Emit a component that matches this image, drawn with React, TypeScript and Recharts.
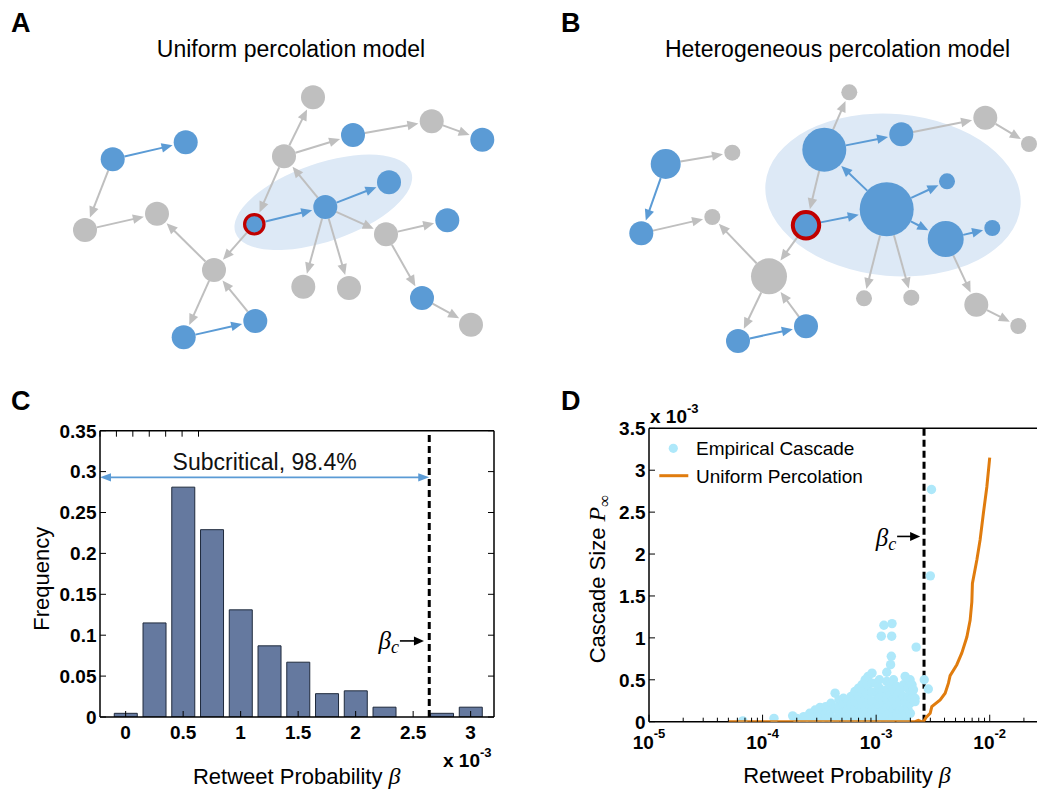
import React from 'react';
import {
  ScatterChart, Scatter, BarChart, Bar, XAxis, YAxis, ReferenceLine, ReferenceArea,
} from 'recharts';

const SANS = '"Liberation Sans", Arial, Helvetica, sans-serif';
const SERIF = '"Liberation Serif", "Times New Roman", serif';
const NODE_BLUE = '#5b9bd5';
const NODE_GRAY = '#bfbfbf';
const SEED_RED = '#c00000';
const BLOB = '#dde9f6';
const BAR_FILL = '#65799f';
const DOT_CYAN = '#aee8fa';
const ORANGE = '#e07c0e';

type Node = { id: number; x: number; y: number; r: number; k: 'b' | 'g' | 's' };
type Edge = [number, number, 'b' | 'g'];

// --- panel A: uniform percolation (node positions in picture pixels)
const nodesA: Node[] = [
  { id: 1, x: 112.7, y: 159.3, r: 12, k: 'b' },
  { id: 2, x: 185.7, y: 142.3, r: 12, k: 'b' },
  { id: 3, x: 85, y: 230, r: 12, k: 'g' },
  { id: 4, x: 157, y: 213.7, r: 12, k: 'g' },
  { id: 5, x: 214, y: 270, r: 12, k: 'g' },
  { id: 6, x: 183.7, y: 337.3, r: 12, k: 'b' },
  { id: 7, x: 255.3, y: 321, r: 12, k: 'b' },
  { id: 8, x: 254.3, y: 224.3, r: 11.5, k: 's' },
  { id: 9, x: 284, y: 156.3, r: 12, k: 'g' },
  { id: 10, x: 313, y: 97.3, r: 12, k: 'g' },
  { id: 11, x: 353, y: 135, r: 12, k: 'b' },
  { id: 12, x: 431.7, y: 121.3, r: 12, k: 'g' },
  { id: 13, x: 482.3, y: 139.7, r: 12, k: 'b' },
  { id: 14, x: 325.3, y: 207, r: 12, k: 'b' },
  { id: 15, x: 389, y: 182.3, r: 12, k: 'b' },
  { id: 16, x: 303.3, y: 286.7, r: 12, k: 'g' },
  { id: 17, x: 349, y: 288, r: 12, k: 'g' },
  { id: 18, x: 386, y: 234.3, r: 12, k: 'g' },
  { id: 19, x: 447.3, y: 220.3, r: 12, k: 'b' },
  { id: 20, x: 422, y: 298, r: 12, k: 'b' },
  { id: 21, x: 471, y: 324.7, r: 12, k: 'g' },
];
const edgesA: Edge[] = [
  [1, 2, 'b'], [1, 3, 'g'], [3, 4, 'g'], [5, 4, 'g'], [8, 5, 'g'], [5, 6, 'g'], [7, 5, 'g'],
  [6, 7, 'b'], [9, 8, 'g'], [9, 10, 'g'], [9, 11, 'g'], [11, 12, 'g'], [12, 13, 'g'],
  [8, 14, 'b'], [14, 9, 'g'], [14, 15, 'b'], [14, 16, 'g'], [14, 17, 'g'], [14, 18, 'g'],
  [18, 19, 'g'], [18, 20, 'g'], [20, 21, 'g'],
];
const blobA = { cx: 323.3, cy: 202.3, rx: 93, ry: 39, angle: -19 };

// --- panel B: heterogeneous percolation
const nodesB: Node[] = [
  { id: 1, x: 665.7, y: 164, r: 15, k: 'b' },
  { id: 2, x: 732.3, y: 152.7, r: 8, k: 'g' },
  { id: 3, x: 641.3, y: 233.3, r: 12, k: 'b' },
  { id: 4, x: 712.3, y: 217, r: 8, k: 'g' },
  { id: 5, x: 769, y: 276.3, r: 18, k: 'g' },
  { id: 6, x: 738, y: 341, r: 12, k: 'b' },
  { id: 7, x: 806, y: 326.3, r: 12, k: 'b' },
  { id: 8, x: 806, y: 225.3, r: 15, k: 's' },
  { id: 9, x: 824.3, y: 149.7, r: 22, k: 'b' },
  { id: 10, x: 849.3, y: 92.3, r: 8, k: 'g' },
  { id: 11, x: 901.3, y: 134.3, r: 12, k: 'b' },
  { id: 12, x: 985.3, y: 117.7, r: 12, k: 'g' },
  { id: 13, x: 1029, y: 144, r: 8, k: 'g' },
  { id: 14, x: 886.7, y: 209.3, r: 27, k: 'b' },
  { id: 15, x: 947, y: 181.3, r: 8, k: 'b' },
  { id: 16, x: 945.7, y: 239, r: 18, k: 'b' },
  { id: 17, x: 992.3, y: 228, r: 8, k: 'b' },
  { id: 18, x: 864, y: 298.3, r: 8, k: 'g' },
  { id: 19, x: 911.3, y: 297.7, r: 8, k: 'g' },
  { id: 20, x: 976.3, y: 304.7, r: 12, k: 'g' },
  { id: 21, x: 1018.3, y: 326, r: 8, k: 'g' },
];
const edgesB: Edge[] = [
  [1, 2, 'g'], [1, 3, 'b'], [3, 4, 'g'], [5, 4, 'g'], [8, 5, 'g'], [5, 6, 'g'], [7, 5, 'g'],
  [6, 7, 'b'], [9, 8, 'g'], [9, 10, 'g'], [9, 11, 'b'], [11, 12, 'g'], [12, 13, 'g'],
  [8, 14, 'b'], [14, 9, 'b'], [14, 15, 'b'], [14, 16, 'b'], [16, 17, 'b'], [14, 18, 'g'],
  [14, 19, 'g'], [16, 20, 'g'], [20, 21, 'g'],
];
const blobB = { cx: 893, cy: 195, rx: 128, ry: 81, angle: 5 };

// --- panel C: histogram of retweet probability (x 10^-3)
const betaBins = [0, 0.25, 0.5, 0.75, 1, 1.25, 1.5, 1.75, 2, 2.25, 2.5, 2.75, 3];
const binFreq = [0.0045, 0.115, 0.281, 0.229, 0.131, 0.087, 0.067, 0.0285, 0.032, 0.012, 0, 0.0045, 0.012];
const xTicksC = [0, 0.5, 1, 1.5, 2, 2.5, 3];
const yTicksC = [0, 0.05, 0.1, 0.15, 0.2, 0.25, 0.3, 0.35];
const BETA_C = 2.64e-3;

// --- panel D: cascade size vs retweet probability (size x 10^-3)
const empiricalCascade: [number, number][] = [
  [6.7e-5, 0.01], [1.26e-4, 0.04], [1.84e-4, 0.07], [2.0e-4, 0.04], [2.3e-4, 0.06], [2.3e-4, 0.01],
  [2.6e-4, 0.1], [2.6e-4, 0.03], [2.9e-4, 0.14], [2.9e-4, 0.05], [3.2e-4, 0.17], [3.2e-4, 0.08],
  [3.2e-4, 0.01], [3.6e-4, 0.18], [3.6e-4, 0.1], [3.6e-4, 0.03], [4.0e-4, 0.22], [4.0e-4, 0.13],
  [4.0e-4, 0.05], [4.35e-4, 0.34], [4.35e-4, 0.16], [4.35e-4, 0.02], [4.7e-4, 0.26], [4.7e-4, 0.18],
  [4.7e-4, 0.09], [5.15e-4, 0.28], [5.15e-4, 0.2], [5.15e-4, 0.12], [5.15e-4, 0.04], [5.6e-4, 0.24],
  [5.6e-4, 0.15], [5.6e-4, 0.07], [6.0e-4, 0.3], [6.0e-4, 0.2], [6.0e-4, 0.1], [6.0e-4, 0.01],
  [6.5e-4, 0.36], [6.5e-4, 0.26], [6.5e-4, 0.16], [6.5e-4, 0.06], [7.0e-4, 0.4], [7.0e-4, 0.3],
  [7.0e-4, 0.2], [7.0e-4, 0.11], [7.0e-4, 0.03], [7.5e-4, 0.44], [7.5e-4, 0.34], [7.5e-4, 0.24],
  [7.5e-4, 0.15], [7.5e-4, 0.07], [8.0e-4, 0.5], [8.0e-4, 0.38], [8.0e-4, 0.27], [8.0e-4, 0.18],
  [8.0e-4, 0.09], [8.0e-4, 0.02], [8.5e-4, 0.54], [8.5e-4, 0.44], [8.5e-4, 0.32], [8.5e-4, 0.21],
  [8.5e-4, 0.12], [8.5e-4, 0.05], [9.2e-4, 0.58], [9.2e-4, 0.46], [9.2e-4, 0.35], [9.2e-4, 0.24],
  [9.2e-4, 0.14], [9.2e-4, 0.06], [1.0e-3, 0.46], [1.0e-3, 0.36], [1.0e-3, 0.26], [1.0e-3, 0.16],
  [1.0e-3, 0.08], [1.0e-3, 0.01], [1.07e-3, 0.5], [1.07e-3, 0.4], [1.07e-3, 0.29], [1.07e-3, 0.19],
  [1.07e-3, 0.1], [1.11e-3, 1.02], [1.17e-3, 1.15], [1.15e-3, 0.36], [1.15e-3, 0.24], [1.15e-3, 0.13],
  [1.15e-3, 0.04], [1.24e-3, 0.59], [1.24e-3, 0.48], [1.24e-3, 0.38], [1.24e-3, 0.27], [1.24e-3, 0.17],
  [1.24e-3, 0.08], [1.34e-3, 0.68], [1.36e-3, 0.78], [1.37e-3, 1.02], [1.38e-3, 1.17], [1.33e-3, 0.44],
  [1.33e-3, 0.32], [1.33e-3, 0.2], [1.33e-3, 0.11], [1.33e-3, 0.02], [1.42e-3, 0.5], [1.42e-3, 0.38],
  [1.42e-3, 0.26], [1.42e-3, 0.14], [1.42e-3, 0.06], [1.52e-3, 0.42], [1.52e-3, 0.3], [1.52e-3, 0.19],
  [1.52e-3, 0.09], [1.62e-3, 0.36], [1.62e-3, 0.25], [1.62e-3, 0.14], [1.62e-3, 0.04], [1.74e-3, 0.44],
  [1.74e-3, 0.3], [1.74e-3, 0.14], [1.8e-3, 0.54], [1.8e-3, 0.22], [1.85e-3, 0.04], [1.8e-3, 0.08],
  [1.9e-3, 0.4], [1.9e-3, 0.28], [1.9e-3, 0.16], [1.99e-3, 0.5], [1.99e-3, 0.34], [1.99e-3, 0.22],
  [2.0e-3, 0.1], [2.07e-3, 0.44], [2.07e-3, 0.28], [2.13e-3, 0.38], [2.2e-3, 0.28], [2.2e-3, 0.24],
  [2.25e-3, 0.89], [2.65e-3, 0.5], [2.88e-3, 0.39], [3.0e-3, 1.74], [3.07e-3, 2.77],
];
const uniformPercolation: [number, number][] = [
  [5e-5, 0], [2.2e-3, 0], [2.35e-3, 0.015], [2.5e-3, 0], [2.61e-3, 0], [2.75e-3, 0.05],
  [2.99e-3, 0.1], [3.09e-3, 0.18], [3.66e-3, 0.26], [4.05e-3, 0.34], [4.33e-3, 0.46],
  [4.48e-3, 0.55], [5.13e-3, 0.68], [5.68e-3, 0.82], [6.29e-3, 1.01], [6.72e-3, 1.21],
  [6.96e-3, 1.43], [7.04e-3, 1.65], [7.7e-3, 1.93], [8.23e-3, 2.17], [8.8e-3, 2.49],
  [9.43e-3, 2.8], [1.0e-2, 3.15],
];
const xMajorD = [1e-5, 1e-4, 1e-3, 1e-2, 1e-1];
const xLabelledD = [1e-5, 1e-4, 1e-3, 1e-2]; // 10^-1 sits beyond the cropped right edge
const minorSteps = [2, 3, 4, 5, 6, 7, 8, 9];
const yTicksD = [0, 0.5, 1, 1.5, 2, 2.5, 3, 3.5];

const xTicksD = [
  ...xMajorD,
  ...xMajorD.slice(0, -1).flatMap((d) => minorSteps.map((s) => s * d)),
].sort((a, b) => a - b);

const histData = betaBins.map((x, i) => ({ x, f: binFreq[i] }));
const empiricalData = empiricalCascade.map(([b, s]) => ({ b, s }));
const percolationData = uniformPercolation.map(([b, s]) => ({ b, s }));

const tickText = { fontFamily: SANS, fontWeight: 700, fontSize: 19, fill: '#000' };
const AXIS_LINE = { stroke: '#000', strokeWidth: 1.5 };

// ---------- shapes ----------
const arrowShape = (r1: number, r2: number, color: string) => (p: any) => {
  const { x1, y1, x2, y2 } = p;
  const dx = x2 - x1;
  const dy = y2 - y1;
  const len = Math.hypot(dx, dy) || 1;
  const ux = dx / len;
  const uy = dy / len;
  const sx = x1 + ux * r1;
  const sy = y1 + uy * r1;
  const tx = x2 - ux * (r2 + 1.5);
  const ty = y2 - uy * (r2 + 1.5);
  const L = 11;
  const W = 4.8;
  const bx = tx - ux * L;
  const by = ty - uy * L;
  return (
    <g>
      <line x1={sx} y1={sy} x2={bx + ux} y2={by + uy} stroke={color} strokeWidth={2} />
      <polygon
        points={`${tx},${ty} ${bx - uy * W},${by + ux * W} ${bx + uy * W},${by - ux * W}`}
        fill={color}
      />
    </g>
  );
};

const blobShape = (angle: number) => (p: any) => {
  const cx = p.x + p.width / 2;
  const cy = p.y + p.height / 2;
  return (
    <ellipse cx={cx} cy={cy} rx={p.width / 2} ry={p.height / 2} fill={BLOB}
      transform={`rotate(${angle} ${cx} ${cy})`} />
  );
};

const nodeShape = (p: any) => {
  const n: Node = p.payload;
  if (n.k === 's') {
    return <circle cx={p.cx} cy={p.cy} r={n.r - 1.8} fill={NODE_BLUE} stroke={SEED_RED} strokeWidth={n.r > 13 ? 4 : 3.2} />;
  }
  return <circle cx={p.cx} cy={p.cy} r={n.r} fill={n.k === 'g' ? NODE_GRAY : NODE_BLUE} />;
};

const dotShape = (p: any) => <circle cx={p.cx} cy={p.cy} r={4.7} fill={DOT_CYAN} />;
const noDot = () => <g />;

const subcriticalShape = (p: any) => {
  const { x1, y1, x2 } = p;
  const L = 11;
  const W = 4.2;
  return (
    <g>
      <line x1={x1 + L - 1} y1={y1} x2={x2 - L + 1} y2={y1} stroke={NODE_BLUE} strokeWidth={1.6} />
      <polygon points={`${x1},${y1} ${x1 + L},${y1 - W} ${x1 + L},${y1 + W}`} fill={NODE_BLUE} />
      <polygon points={`${x2},${y1} ${x2 - L},${y1 - W} ${x2 - L},${y1 + W}`} fill={NODE_BLUE} />
      <text x={(x1 + x2) / 2} y={y1 - 7.5} textAnchor="middle" fontFamily={SANS} fontSize={23} fill="#111">
        Subcritical, 98.4%
      </text>
    </g>
  );
};

const betaCArrow = (below: number) => (p: any) => {
  const { x1, y1, x2 } = p;
  return (
    <g>
      <line x1={x1} y1={y1} x2={x2 - 9} y2={y1} stroke="#000" strokeWidth={1.6} />
      <polygon points={`${x2},${y1} ${x2 - 10},${y1 - 4.5} ${x2 - 10},${y1 + 4.5}`} fill="#000" />
      <text x={x1 - 1} y={y1 + below} textAnchor="end" fontFamily={SERIF} fontStyle="italic" fontSize={25} fill="#000">
        β<tspan fontSize={18} dy={4}>c</tspan>
      </text>
    </g>
  );
};

// ---------- ticks (drawn inward, MATLAB box style) ----------
const tickBottomC = (p: any) => (
  <g>
    <line x1={p.x} y1={p.y} x2={p.x} y2={p.y - 6} stroke="#000" />
    <text x={p.x} y={p.y + 21.5} textAnchor="middle" {...tickText}>{String(p.payload.value)}</text>
  </g>
);
const tickTopC = (p: any) => <line x1={p.x} y1={p.y} x2={p.x} y2={p.y + 6} stroke="#000" />;
const tickLeft = (p: any) => (
  <g>
    <line x1={p.x} y1={p.y} x2={p.x + 6} y2={p.y} stroke="#000" />
    <text x={p.x - 3.5} y={p.y} dy="0.36em" textAnchor="end" {...tickText}>{String(p.payload.value)}</text>
  </g>
);
const tickRight = (p: any) => <line x1={p.x} y1={p.y} x2={p.x - 6} y2={p.y} stroke="#000" />;

const tickBottomD = (p: any) => {
  const v = p.payload.value;
  const major = xMajorD.includes(v);
  return (
    <g>
      <line x1={p.x} y1={p.y} x2={p.x} y2={p.y - (major ? 7 : 4)} stroke="#000" />
      {xLabelledD.includes(v) && (
        <text x={p.x} y={p.y + 27.5} textAnchor="middle" {...tickText}>
          10<tspan fontSize={13} dy={-11}>{String(Math.round(Math.log10(v)))}</tspan>
        </text>
      )}
    </g>
  );
};
const tickTopD = (p: any) => {
  const major = xMajorD.includes(p.payload.value);
  return <line x1={p.x} y1={p.y} x2={p.x} y2={p.y + (major ? 7 : 4)} stroke="#000" />;
};

// axes are 1px thick so recharts still draws them; margins are trimmed by that pixel
const axisCommon = {
  interval: 0 as const, allowDataOverflow: true, tickSize: 0, tickMargin: 0, tickLine: false, axisLine: AXIS_LINE,
};

// ---------- panels ----------
function Network({ nodes, edges, blob, x0, width, height }: {
  nodes: Node[]; edges: Edge[]; blob: typeof blobA; x0: number; width: number; height: number;
}) {
  const byId = new Map(nodes.map((n) => [n.id, n]));
  return (
    <ScatterChart width={width} height={height} margin={{ top: 0, right: 0, bottom: 0, left: 0 }}>
      <XAxis type="number" dataKey="x" domain={[x0, x0 + width]} hide allowDataOverflow />
      <YAxis type="number" dataKey="y" domain={[0, height]} hide reversed allowDataOverflow />
      <ReferenceArea
        x1={blob.cx - blob.rx} x2={blob.cx + blob.rx} y1={blob.cy - blob.ry} y2={blob.cy + blob.ry}
        shape={blobShape(blob.angle)} ifOverflow="visible"
      />
      {edges.map(([a, b, k], i) => {
        const s = byId.get(a)!;
        const t = byId.get(b)!;
        return (
          <ReferenceLine
            key={i}
            segment={[{ x: s.x, y: s.y }, { x: t.x, y: t.y }]}
            shape={arrowShape(s.r, t.r, k === 'b' ? NODE_BLUE : NODE_GRAY)}
            ifOverflow="visible"
          />
        );
      })}
      <Scatter data={nodes} shape={nodeShape} isAnimationActive={false} />
    </ScatterChart>
  );
}

function Histogram() {
  const xDomain: [number, number] = [-0.223, 3.203];
  return (
    <BarChart width={520} height={414} data={histData} margin={{ top: 49.7, right: 25, bottom: 76, left: 99 }}>
      <XAxis type="number" dataKey="x" domain={xDomain} ticks={xTicksC} height={1} tick={tickBottomC} {...axisCommon} />
      <XAxis xAxisId="top" orientation="top" type="number" domain={xDomain} ticks={xTicksC} height={1}
        tick={tickTopC} {...axisCommon} />
      <YAxis type="number" domain={[0, 0.35]} ticks={yTicksC} width={1} tick={tickLeft} {...axisCommon} />
      <YAxis yAxisId="right" orientation="right" type="number" domain={[0, 0.35]} ticks={yTicksC} width={1}
        tick={tickRight} {...axisCommon} />
      <Bar dataKey="f" fill={BAR_FILL} stroke="#1f2a3c" strokeWidth={1} barSize={23} isAnimationActive={false} />
      <ReferenceLine x={BETA_C * 1000} stroke="#000" strokeWidth={3} strokeDasharray="7 4" />
      <ReferenceLine segment={[{ x: -0.223, y: 0.293 }, { x: BETA_C * 1000, y: 0.293 }]} shape={subcriticalShape} ifOverflow="visible" />
      <ReferenceLine segment={[{ x: 2.385, y: 0.093 }, { x: 2.594, y: 0.093 }]} shape={betaCArrow(8)} />
    </BarChart>
  );
}

function CascadePlot() {
  const xDomain: [number, number] = [1e-5, 1e-1];
  return (
    <ScatterChart width={593} height={414} margin={{ top: 47.3, right: 8.7, bottom: 71.3, left: 128 }}>
      <XAxis type="number" dataKey="b" scale="log" domain={xDomain} ticks={xTicksD} height={1}
        tick={tickBottomD} {...axisCommon} />
      <XAxis xAxisId="top" orientation="top" type="number" scale="log" domain={xDomain} ticks={xTicksD} height={1}
        tick={tickTopD} {...axisCommon} />
      <YAxis type="number" dataKey="s" domain={[0, 3.5]} ticks={yTicksD} width={1} tick={tickLeft} {...axisCommon} />
      <YAxis yAxisId="right" orientation="right" type="number" domain={[0, 3.5]} ticks={yTicksD} width={1}
        tick={tickRight} {...axisCommon} />
      <Scatter name="Empirical Cascade" data={empiricalData} fill={DOT_CYAN} shape={dotShape} isAnimationActive={false} />
      <Scatter name="Uniform Percolation" data={percolationData} fill={ORANGE} line={{ stroke: ORANGE, strokeWidth: 3 }}
        shape={noDot} isAnimationActive={false} />
      <ReferenceLine x={BETA_C} stroke="#000" strokeWidth={3} strokeDasharray="7 4" />
      <ReferenceLine segment={[{ x: 1.53e-3, y: 2.21 }, { x: 2.44e-3, y: 2.21 }]} shape={betaCArrow(10)} />
    </ScatterChart>
  );
}

export default function App() {
  return (
    <div style={{ position: 'absolute', left: 0, top: 0, width: 1037, height: 794, overflow: 'hidden', background: '#fff' }}>
      <div style={{ position: 'absolute', left: 0, top: 0 }}>
        <Network nodes={nodesA} edges={edgesA} blob={blobA} x0={0} width={520} height={370} />
      </div>
      <div style={{ position: 'absolute', left: 520, top: 0 }}>
        <Network nodes={nodesB} edges={edgesB} blob={blobB} x0={520} width={517} height={370} />
      </div>
      <div style={{ position: 'absolute', left: 0, top: 380 }}>
        <Histogram />
      </div>
      <div style={{ position: 'absolute', left: 520, top: 380 }}>
        <CascadePlot />
      </div>
      <svg width={1037} height={794} style={{ position: 'absolute', left: 0, top: 0, pointerEvents: 'none' }}
        fontFamily={SANS} fill="#000">
        <text x={11} y={32} fontSize={27} fontWeight={700}>A</text>
        <text x={561} y={32} fontSize={27} fontWeight={700}>B</text>
        <text x={11} y={409.5} fontSize={27} fontWeight={700}>C</text>
        <text x={561} y={409.5} fontSize={27} fontWeight={700}>D</text>
        <text x={291} y={56.7} textAnchor="middle" fontSize={23}>Uniform percolation model</text>
        <text x={837.5} y={56.7} textAnchor="middle" fontSize={23}>Heterogeneous percolation model</text>

        <text transform="translate(49,578.7) rotate(-90)" textAnchor="middle" fontSize={22}>Frequency</text>
        <text x={296.7} y={784} textAnchor="middle" fontSize={22}>
          Retweet Probability <tspan fontFamily={SERIF} fontStyle="italic" fontSize={24}>β</tspan>
        </text>
        <text x={443} y={766.7} {...tickText}>x 10<tspan fontSize={13} dy={-10}>-3</tspan></text>

        <text transform="translate(605,579) rotate(-90)" textAnchor="middle" fontSize={22}>
          Cascade Size <tspan fontFamily={SERIF} fontStyle="italic" fontSize={24}>P</tspan>
          <tspan fontFamily={SERIF} fontSize={17} dy={5}>∞</tspan>
        </text>
        <text x={847} y={783} textAnchor="middle" fontSize={22}>
          Retweet Probability <tspan fontFamily={SERIF} fontStyle="italic" fontSize={24}>β</tspan>
        </text>
        <text x={650} y={422.7} {...tickText}>x 10<tspan fontSize={13} dy={-10}>-3</tspan></text>

        <circle cx={673.3} cy={448.3} r={4.6} fill={DOT_CYAN} />
        <text x={696} y={455} fontSize={19}>Empirical Cascade</text>
        <line x1={659.3} x2={688.3} y1={475.7} y2={475.7} stroke={ORANGE} strokeWidth={3} />
        <text x={696} y={482.7} fontSize={19}>Uniform Percolation</text>
      </svg>
    </div>
  );
}
